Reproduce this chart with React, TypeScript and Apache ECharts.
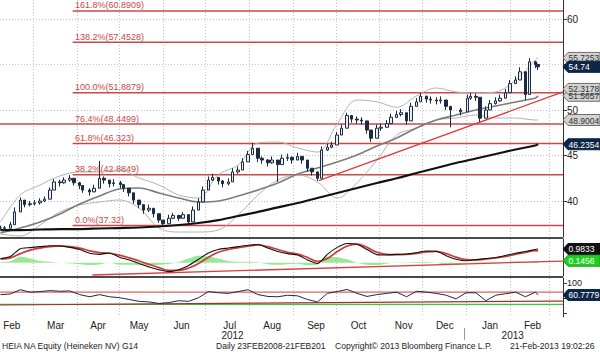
import React, { useEffect, useRef } from "react";
import * as echarts from "echarts";

const FONT = "'Liberation Sans', Arial, sans-serif";

// ---------- x range & calendar labels ----------
const xRange = ["2012-02-06T16:00", "2013-03-10T13:00"];
const monthStarts = ["2012-03-01", "2012-04-01", "2012-05-01", "2012-06-01", "2012-07-01", "2012-08-01", "2012-09-01", "2012-10-01", "2012-11-01", "2012-12-01", "2013-01-01", "2013-02-01", "2013-03-01"];
const monthMids = ["2012-02-15", "2012-03-17", "2012-04-16", "2012-05-15", "2012-06-14", "2012-07-18", "2012-08-17", "2012-09-17", "2012-10-17", "2012-11-18", "2012-12-17", "2013-01-18", "2013-02-17"];
const monthLabels = ["Feb", "Mar", "Apr", "May", "Jun", "Jul", "Aug", "Sep", "Oct", "Nov", "Dec", "Jan", "Feb"];
const yearMids = ["2012-07-20", "2013-02-03"];
const yearLabels = ["2012", "2013"];
const yearBreaks = ["2012-12-31"];

// ---------- price (every ~2 trading days) ----------
const priceDates = [
  "2012-02-07", "2012-02-10", "2012-02-14", "2012-02-17", "2012-02-21", "2012-02-24", "2012-02-28",
  "2012-03-02", "2012-03-06", "2012-03-09", "2012-03-13", "2012-03-16", "2012-03-20", "2012-03-23", "2012-03-27", "2012-03-30",
  "2012-04-03", "2012-04-05", "2012-04-10", "2012-04-13", "2012-04-17", "2012-04-20", "2012-04-24", "2012-04-27",
  "2012-05-02", "2012-05-04", "2012-05-08", "2012-05-11", "2012-05-15", "2012-05-18", "2012-05-22", "2012-05-25", "2012-05-29",
  "2012-06-01", "2012-06-05", "2012-06-08", "2012-06-12", "2012-06-15", "2012-06-19", "2012-06-22", "2012-06-26", "2012-06-29",
  "2012-07-03", "2012-07-06", "2012-07-10", "2012-07-13", "2012-07-17", "2012-07-20", "2012-07-24", "2012-07-27", "2012-07-31",
  "2012-08-03", "2012-08-07", "2012-08-10", "2012-08-14", "2012-08-17", "2012-08-21", "2012-08-24", "2012-08-28", "2012-08-31",
  "2012-09-04", "2012-09-07", "2012-09-11", "2012-09-14", "2012-09-18", "2012-09-21", "2012-09-25", "2012-09-28",
  "2012-10-02", "2012-10-05", "2012-10-09", "2012-10-12", "2012-10-16", "2012-10-19", "2012-10-23", "2012-10-26", "2012-10-30",
  "2012-11-02", "2012-11-06", "2012-11-09", "2012-11-13", "2012-11-16", "2012-11-20", "2012-11-23", "2012-11-27", "2012-11-30",
  "2012-12-04", "2012-12-07", "2012-12-11", "2012-12-14", "2012-12-18", "2012-12-21", "2012-12-28",
  "2013-01-02", "2013-01-04", "2013-01-08", "2013-01-11", "2013-01-15", "2013-01-18", "2013-01-22", "2013-01-25", "2013-01-29",
  "2013-02-01", "2013-02-05", "2013-02-08", "2013-02-12", "2013-02-15", "2013-02-19", "2013-02-21",
];
const priceClose = [
  37.05, 37.0, 37.4, 38.8, 40.1, 39.6, 39.7,
  39.8, 40.0, 40.2, 41.2, 42.1, 42.0, 42.3, 42.5, 42.0,
  41.7, 41.2, 41.0, 41.4, 42.5, 42.3, 41.9, 42.0,
  41.8, 41.4, 40.9, 40.1, 39.6, 39.0, 39.2, 38.6, 37.9,
  37.5, 38.1, 38.4, 38.1, 38.5, 37.7, 39.0, 39.9, 41.2,
  42.3, 42.6, 42.2, 41.9, 42.1, 43.2, 43.4, 44.3, 45.1,
  45.8, 44.7, 44.5, 44.2, 44.5, 44.0, 44.7, 44.8, 44.5,
  44.9, 44.5, 43.6, 43.2, 42.5, 45.6, 45.9, 46.15,
  47.25, 48.0, 49.4, 49.0, 48.9, 48.8, 47.8, 46.9, 48.0,
  48.1, 48.5, 49.2, 49.5, 49.7, 48.8, 50.4, 50.9, 51.5,
  51.2, 51.1, 51.0, 51.1, 50.4, 50.0, 49.8,
  51.3, 51.5, 51.4, 49.1, 50.0, 50.7, 51.0, 51.3, 51.9,
  52.9, 53.3, 54.2, 51.7, 55.3, 55.0, 54.74,
];
const priceHigh = [
  37.3, 37.25, 37.7, 39.3, 40.4, 40.0, 40.0,
  40.1, 40.3, 40.5, 41.5, 42.4, 42.35, 42.6, 42.85, 42.4,
  42.1, 41.6, 41.4, 41.8, 44.4, 42.7, 42.3, 42.4,
  42.2, 41.8, 41.3, 40.5, 40.0, 39.4, 39.6, 39.0, 38.3,
  37.9, 38.5, 38.7, 38.5, 38.8, 38.1, 39.4, 40.3, 41.6,
  42.7, 43.0, 42.6, 42.3, 42.5, 43.6, 43.8, 44.7, 45.5,
  46.4, 45.2, 44.9, 44.6, 44.9, 44.4, 45.1, 45.2, 44.9,
  45.3, 44.9, 44.0, 43.6, 42.9, 46.0, 46.3, 46.5,
  47.6, 48.4, 49.7, 49.4, 49.3, 49.2, 48.2, 47.3, 48.4,
  48.5, 48.9, 49.6, 49.9, 50.1, 49.2, 50.8, 51.3, 51.85,
  51.6, 51.5, 51.4, 51.5, 50.8, 50.4, 50.2,
  51.7, 51.85, 51.8, 49.5, 50.4, 51.1, 51.4, 51.7, 52.3,
  53.3, 53.7, 54.7, 52.1, 55.7, 55.4, 55.1,
];
const priceLow = [
  36.8, 36.75, 37.1, 38.3, 39.7, 39.3, 39.4,
  39.5, 39.6, 39.9, 40.8, 41.7, 41.6, 41.9, 42.1, 41.7,
  41.3, 40.9, 40.6, 41.0, 42.1, 41.9, 41.5, 41.6,
  41.4, 41.0, 40.5, 39.7, 39.2, 38.6, 38.8, 38.2, 37.6,
  37.3, 37.7, 38.0, 37.8, 38.1, 37.32, 38.6, 39.5, 40.7,
  41.9, 42.2, 41.8, 41.5, 41.7, 42.8, 43.0, 43.8, 44.6,
  45.3, 44.3, 44.1, 43.8, 44.1, 42.1, 44.3, 44.4, 44.1,
  44.5, 44.1, 43.2, 42.8, 42.2, 45.2, 45.5, 45.8,
  46.9, 47.6, 49.0, 48.6, 48.5, 48.4, 47.4, 46.5, 47.6,
  47.7, 48.1, 48.8, 49.1, 49.3, 48.4, 50.0, 50.5, 51.1,
  50.8, 50.7, 50.6, 50.7, 50.0, 48.1, 49.4,
  50.9, 51.1, 51.0, 48.7, 49.6, 50.3, 50.6, 50.9, 51.5,
  52.5, 52.9, 53.8, 51.1, 54.9, 54.6, 54.4,
];

// ---------- bands & moving averages (bi-weekly) ----------
const bandDates = ["2012-02-07", "2012-02-21", "2012-03-06", "2012-03-20", "2012-04-03", "2012-04-17", "2012-05-01", "2012-05-15", "2012-05-29", "2012-06-12", "2012-06-26", "2012-07-10", "2012-07-24", "2012-08-07", "2012-08-21", "2012-09-04", "2012-09-18", "2012-10-02", "2012-10-16", "2012-10-30", "2012-11-13", "2012-11-27", "2012-12-11", "2012-12-25", "2013-01-08", "2013-01-22", "2013-02-05", "2013-02-19", "2013-02-21"];
const bbUpper = [37.69, 40.66, 41.76, 42.75, 43.19, 43.19, 43.41, 42.53, 41.76, 40.66, 40.33, 42.9, 43.96, 46.37, 46.48, 45.82, 45.38, 48.5, 51.1, 50.9, 50.3, 51.54, 52.42, 51.98, 51.87, 51.98, 53.3, 55.5, 55.7253];
const bbLower = [36.37, 36.15, 37.36, 38.79, 39.56, 39.89, 40.11, 39.23, 37.03, 36.59, 36.59, 36.81, 38.46, 40.66, 42.31, 42.86, 42.09, 40.33, 42.0, 44.5, 47.25, 48.02, 48.9, 49.12, 49.45, 49.12, 49.12, 48.9, 48.9004];
const ma50 = [36.48, 37.03, 37.69, 38.57, 39.67, 40.55, 41.32, 41.43, 40.88, 40.33, 39.89, 40.0, 40.55, 41.21, 41.98, 42.97, 43.63, 44.29, 45.05, 46.04, 46.92, 48.02, 48.9, 49.45, 50.0, 50.44, 50.88, 51.32, 51.5657];
const ma200 = [36.81, 36.81, 36.87, 36.92, 36.92, 36.98, 37.03, 37.09, 37.2, 37.36, 37.58, 37.9, 38.35, 38.8, 39.3, 39.78, 40.33, 40.88, 41.43, 41.98, 42.5, 43.08, 43.63, 44.18, 44.67, 45.16, 45.66, 46.1, 46.2354];

// ---------- Fibonacci retracement ----------
const fibLevels = [60.8909, 57.4528, 51.8879, 48.4499, 46.323, 42.8849, 37.32];
const fibLabels = ["161.8%(60.8909)", "138.2%(57.4528)", "100.0%(51.8879)", "76.4%(48.4499)", "61.8%(46.323)", "38.2%(42.8849)", "0.0%(37.32)"];
const fibStart = ["2012-03-29", "2012-03-29", "2012-03-29", "2012-02-06T16:00", "2012-03-29", "2012-03-29", "2012-03-29"];
const fibLabelDate = "2012-03-30";
const priceTrend: [string, number][] = [["2012-09-19", 42.25], ["2013-03-10T13:00", 51.98]];

// ---------- indicators (weekly) ----------
const indDates = ["2012-02-07", "2012-02-14", "2012-02-21", "2012-02-28", "2012-03-06", "2012-03-13", "2012-03-20", "2012-03-27", "2012-04-03", "2012-04-10", "2012-04-17", "2012-04-24", "2012-05-01", "2012-05-08", "2012-05-15", "2012-05-22", "2012-05-29", "2012-06-05", "2012-06-12", "2012-06-19", "2012-06-26", "2012-07-03", "2012-07-10", "2012-07-17", "2012-07-24", "2012-07-31", "2012-08-07", "2012-08-14", "2012-08-21", "2012-08-28", "2012-09-04", "2012-09-11", "2012-09-18", "2012-09-25", "2012-10-02", "2012-10-09", "2012-10-16", "2012-10-23", "2012-10-30", "2012-11-06", "2012-11-13", "2012-11-20", "2012-11-27", "2012-12-04", "2012-12-11", "2012-12-18", "2012-12-25", "2013-01-01", "2013-01-08", "2013-01-15", "2013-01-22", "2013-01-29", "2013-02-05", "2013-02-12", "2013-02-19", "2013-02-21"];
const macdLine = [0.3, 0.45, 1.0, 1.08, 1.15, 1.22, 1.2, 1.1, 0.95, 0.68, 0.6, 0.7, 0.4, 0.2, -0.05, -0.3, -0.5, -0.64, -0.5, -0.2, 0.25, 0.7, 0.95, 1.05, 1.15, 1.25, 1.3, 1.05, 0.8, 0.65, 0.55, 0.2, -0.05, 0.6, 1.1, 1.38, 1.32, 0.95, 0.58, 0.55, 0.6, 0.62, 0.72, 0.84, 0.82, 0.5, 0.25, 0.14, 0.22, 0.3, 0.38, 0.52, 0.68, 0.8, 0.95, 0.9833];
const macdSignal = [0.25, 0.35, 0.65, 0.9, 1.05, 1.15, 1.2, 1.15, 1.05, 0.85, 0.72, 0.68, 0.55, 0.35, 0.12, -0.12, -0.35, -0.55, -0.55, -0.38, -0.05, 0.4, 0.75, 0.95, 1.08, 1.18, 1.27, 1.15, 0.95, 0.75, 0.62, 0.38, 0.1, 0.3, 0.8, 1.2, 1.33, 1.1, 0.75, 0.6, 0.58, 0.6, 0.66, 0.78, 0.82, 0.65, 0.4, 0.22, 0.2, 0.26, 0.34, 0.45, 0.6, 0.74, 0.86, 0.8377];
const macdHist = [0.05, 0.1, 0.45, 0.3, 0.12, 0.07, 0, -0.05, -0.1, -0.17, -0.12, 0.02, -0.15, -0.15, -0.17, -0.18, -0.15, -0.09, 0.05, 0.3, 0.5, 0.45, 0.3, 0.12, 0.07, 0.07, 0.03, -0.1, -0.15, -0.1, -0.07, -0.18, -0.15, 0.45, 0.4, 0.25, -0.01, -0.15, -0.17, -0.05, 0.02, 0.02, 0.06, 0.06, 0, -0.15, -0.15, -0.08, 0.02, 0.04, 0.04, 0.07, 0.08, 0.06, 0.09, 0.1456];
const macdTrend: [string, number][] = [["2012-04-12", -0.88], ["2013-03-10T13:00", 0.12]];
const rsiLine = [62, 64, 78, 70, 72, 75, 73, 74, 62, 55, 62, 55, 52, 46, 40, 38, 33, 36, 42, 40, 52, 72, 68, 66, 72, 78, 62, 56, 55, 60, 58, 46, 38, 66, 72, 79, 66, 56, 62, 66, 70, 55, 73, 70, 66, 60, 48, 68, 68, 42, 60, 65, 70, 55, 70, 60.7779];
const rsiUpper = 70;
const rsiLower = 30;
const rsiTrend: [string, number][] = [["2012-02-06T16:00", 28], ["2013-03-10T13:00", 41]];

// ---------- axes ticks ----------
const mainTicks = [40, 45, 50, 55, 60];
const mainTickLabels = [40, 45, 50, 60];
const mainRange = [36.044, 62.088];
const macdRange = [-0.95, 1.699];
const rsiRange = [-11.2, 116.3];
const rsiTicks = [0, 50, 100];
const rsiTickLabels = [50, 100];

// ---------- right-hand value tags ----------
const tagTexts = ["55.7253", "54.74", "51.5657", "52.3178", "48.9004", "46.2354", "0.9833", "0.1456", "60.7779"];
const tagValues = [55.7253, 54.74, 51.5657, 52.3178, 48.9004, 46.2354, 0.9833, 0.1456, 60.7779];
const tagAxis = [0, 0, 0, 0, 0, 0, 1, 1, 2];
const tagKind = ["gray", "navy", "gray", "gray", "gray", "navy", "black", "green", "navy"];

const footerTexts = ["HEIA NA Equity (Heineken NV) G14", "Daily 23FEB2008-21FEB201", "Copyright\u00a9 2013 Bloomberg Finance L.P.", "21-Feb-2013 19:02:26"];

function ts(s: string): number {
  const [d, tm] = s.split("T");
  const [y, m, dd] = d.split("-").map(Number);
  let hh = 0, mm = 0;
  if (tm) [hh, mm] = tm.split(":").map(Number);
  return new Date(y, m - 1, dd, hh, mm).getTime();
}

function labelFor(v: number, dates: string[], labels: string[]) {
  const i = dates.findIndex((d) => Math.abs(ts(d) - v) < 12 * 3600 * 1000);
  return i >= 0 ? labels[i] : "";
}

const tagStyles: Record<string, { fill: string; stroke: string; text: string }> = {
  gray: { fill: "#d2d2d2", stroke: "#6e6e6e", text: "#333" },
  navy: { fill: "#0e2646", stroke: "#0e2646", text: "#fff" },
  black: { fill: "#111", stroke: "#111", text: "#fff" },
  green: { fill: "#1fcf1f", stroke: "#17a017", text: "#fff" },
};

export default function App() {
  const ref = useRef<HTMLDivElement>(null);
  useEffect(() => {
    const chart = echarts.init(ref.current!, null, { renderer: "svg" });
    const xMin = ts(xRange[0]);
    const xMax = ts(xRange[1]);
    const gridLine = { color: "#c2c2c2", type: [1, 2] as any, width: 1 };
    const monthStartTs = monthStarts.map(ts);

    // value axis holding timestamps (time scale has no custom tick support)
    const baseX = (gridIndex: number): any => ({
      type: "value",
      gridIndex,
      min: xMin,
      max: xMax,
      axisLine: { show: false, onZero: false },
      axisTick: { show: false, customValues: monthStartTs },
      axisLabel: { show: false },
      splitLine: { show: true, lineStyle: gridLine },
    });

    const candles = priceDates.map((d, i) => {
      const open = i === 0 ? priceClose[0] : priceClose[i - 1];
      const close = priceClose[i];
      return [ts(d), open, close, Math.min(priceLow[i], open, close), Math.max(priceHigh[i], open, close)];
    });

    const lineS = (data: any[], xi: number, color: string, width: number, extra: any = {}) => ({
      type: "line",
      xAxisIndex: xi,
      yAxisIndex: xi,
      data,
      showSymbol: false,
      symbol: "none",
      silent: true,
      lineStyle: { color, width },
      ...extra,
    });

    const option: any = {
      animation: false,
      backgroundColor: "#ffffff",
      textStyle: { fontFamily: FONT },
      grid: [
        { left: 0, top: 0, width: 563, height: 237, outerBoundsMode: "none" },
        { left: 0, top: 239, width: 563, height: 37, outerBoundsMode: "none" },
        { left: 0, top: 278, width: 563, height: 39, outerBoundsMode: "none" },
      ],
      xAxis: [
        baseX(0),
        baseX(1),
        {
          ...baseX(2),
          axisLabel: {
            show: true,
            customValues: monthMids.map(ts),
            formatter: (v: number) => labelFor(v, monthMids, monthLabels),
            fontSize: 10,
            color: "#222",
            margin: 3,
            fontFamily: FONT,
          },
        },
        {
          type: "value",
          gridIndex: 2,
          min: xMin,
          max: xMax,
          position: "bottom",
          offset: 11,
          axisLine: { show: false, onZero: false },
          axisTick: { show: true, customValues: yearBreaks.map(ts), length: 12, lineStyle: { color: "#999", width: 1 } },
          axisLabel: {
            show: true,
            customValues: yearMids.map(ts),
            formatter: (v: number) => labelFor(v, yearMids, yearLabels),
            fontSize: 10,
            color: "#222",
            margin: 2,
            fontFamily: FONT,
          },
          splitLine: { show: false },
        },
      ],
      yAxis: [
        {
          type: "value",
          gridIndex: 0,
          position: "right",
          min: mainRange[0],
          max: mainRange[1],
          axisLine: { show: true, onZero: false, lineStyle: { color: "#333", width: 1 } },
          axisTick: { show: true, customValues: mainTicks, length: 4, lineStyle: { color: "#333" } },
          axisLabel: { show: true, customValues: mainTickLabels, margin: 4, fontSize: 10, color: "#222", fontFamily: FONT },
          splitLine: { show: true, lineStyle: gridLine },
        },
        {
          type: "value",
          gridIndex: 1,
          position: "right",
          min: macdRange[0],
          max: macdRange[1],
          axisLine: { show: true, onZero: false, lineStyle: { color: "#333", width: 1 } },
          axisTick: { show: false },
          axisLabel: { show: false },
          splitLine: { show: false },
        },
        {
          type: "value",
          gridIndex: 2,
          position: "right",
          min: rsiRange[0],
          max: rsiRange[1],
          axisLine: { show: true, onZero: false, lineStyle: { color: "#333", width: 1 } },
          axisTick: { show: true, customValues: rsiTicks, length: 4, lineStyle: { color: "#333" } },
          axisLabel: { show: true, customValues: rsiTickLabels, margin: 4, fontSize: 9, color: "#222", fontFamily: FONT },
          splitLine: { show: false },
        },
      ],
      series: [
        ...fibLevels.map((lv, i) =>
          lineS([[ts(fibStart[i]), lv], [xMax, lv]], 0, "#cc4848", 1.5, { z: 2 })
        ),
        lineS(bandDates.map((d, i) => [ts(d), bbUpper[i]]), 0, "#b3b3b3", 1, { smooth: 0.35, z: 3 }),
        lineS(bandDates.map((d, i) => [ts(d), bbLower[i]]), 0, "#b3b3b3", 1, { smooth: 0.35, z: 3 }),
        lineS(bandDates.map((d, i) => [ts(d), ma50[i]]), 0, "#7c7c7c", 1.6, { smooth: 0.35, z: 3 }),
        lineS(bandDates.map((d, i) => [ts(d), ma200[i]]), 0, "#111111", 2.2, { smooth: 0.35, z: 3 }),
        lineS(priceTrend.map((p) => [ts(p[0]), p[1]]), 0, "#e03a3a", 1.3, { z: 4 }),
        {
          type: "candlestick",
          xAxisIndex: 0,
          yAxisIndex: 0,
          data: candles,
          encode: { x: 0, y: [1, 2, 3, 4] },
          barWidth: 3,
          silent: true,
          z: 5,
          itemStyle: { color: "#e6ebf1", color0: "#1b2c42", borderColor: "#1b2c42", borderColor0: "#1b2c42", borderWidth: 1 },
        },
        // MACD panel
        lineS(indDates.map((d, i) => [ts(d), macdHist[i]]), 1, "#8de28d", 0, {
          smooth: 0.3,
          areaStyle: { color: "#8fe48f", opacity: 0.9 },
          z: 2,
        }),
        lineS(macdTrend.map((p) => [ts(p[0]), p[1]]), 1, "#d84040", 1.3, { z: 3 }),
        lineS(indDates.map((d, i) => [ts(d), macdSignal[i]]), 1, "#d03a3a", 1.7, { smooth: 0.35, z: 4 }),
        lineS(indDates.map((d, i) => [ts(d), macdLine[i]]), 1, "#111111", 1.1, { smooth: 0.25, z: 5 }),
        // RSI panel
        lineS([[xMin, rsiUpper], [xMax, rsiUpper]], 2, "#e06060", 1.3, { z: 2 }),
        lineS([[xMin, rsiLower], [xMax, rsiLower]], 2, "#3cc43c", 1.3, { z: 2 }),
        lineS(rsiTrend.map((p) => [ts(p[0]), p[1]]), 2, "#a33030", 1.2, { z: 3 }),
        lineS(indDates.map((d, i) => [ts(d), rsiLine[i]]), 2, "#1b2b40", 1, { z: 4 }),
      ],
    };

    chart.setOption(option);

    const xp = (v: number) => chart.convertToPixel({ xAxisIndex: 0 }, v) as number;
    const yp = (ax: number, v: number) => chart.convertToPixel({ yAxisIndex: ax }, v) as number;
    const axisX = xp(xMax);

    const graphics: any[] = [];
    [yp(0, mainRange[0]) + 1, yp(1, macdRange[0]) + 1].forEach((y) => {
      graphics.push({ type: "line", z: 40, shape: { x1: 0, y1: y, x2: axisX, y2: y }, style: { stroke: "#4a4a4a", lineWidth: 2 } });
    });
    fibLevels.forEach((lv, i) => {
      graphics.push({
        type: "text",
        z: 45,
        x: xp(ts(fibLabelDate)) + 1,
        y: yp(0, lv) - 1,
        style: { text: fibLabels[i], fill: "#c94848", fontSize: 9, fontFamily: FONT, verticalAlign: "bottom", textVerticalAlign: "bottom" },
      });
    });
    tagValues.forEach((v, i) => {
      const y = yp(tagAxis[i], v);
      const st = tagStyles[tagKind[i]];
      graphics.push({
        type: "group",
        z: 50,
        children: [
          {
            type: "polygon",
            z: 50,
            shape: { points: [[axisX, y], [axisX + 5, y - 5.5], [600, y - 5.5], [600, y + 5.5], [axisX + 5, y + 5.5]] },
            style: { fill: st.fill, stroke: st.stroke, lineWidth: 1 },
          },
          {
            type: "text",
            z: 51,
            x: axisX + 5.5,
            y: y + 0.5,
            style: { text: tagTexts[i], fill: st.text, fontSize: 8.5, fontFamily: FONT, verticalAlign: "middle", textVerticalAlign: "middle" },
          },
        ],
      });
    });
    const footerX = [2, 216, 335, 510];
    footerTexts.forEach((t, i) => {
      graphics.push({
        type: "text",
        z: 50,
        x: footerX[i],
        y: 346,
        scaleX: 0.9,
        style: { text: t, fill: "#222", fontSize: 9.5, fontFamily: FONT, verticalAlign: "middle", textVerticalAlign: "middle" },
      });
    });

    chart.setOption({ graphic: graphics });
    return () => chart.dispose();
  }, []);
  return <div ref={ref} style={{ position: "fixed", left: 0, top: 0, width: 600, height: 352 }} />;
}
